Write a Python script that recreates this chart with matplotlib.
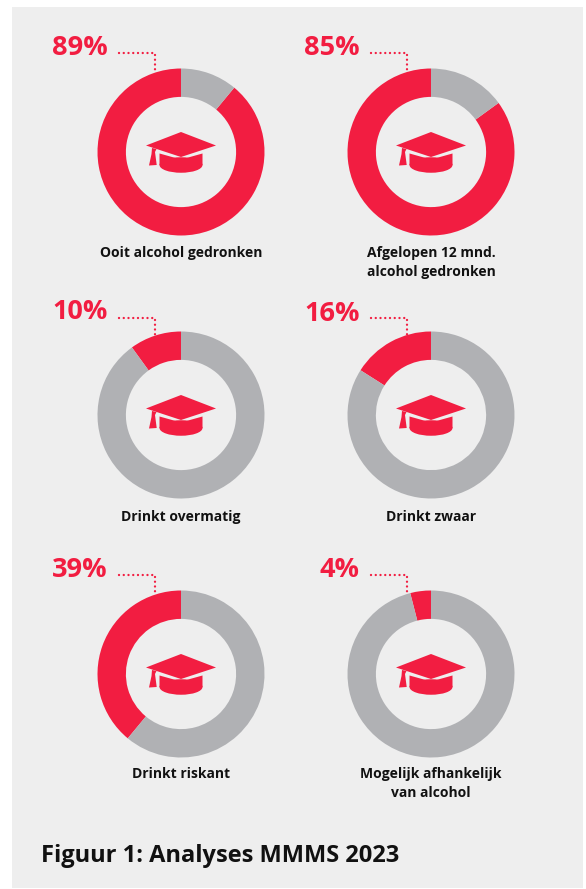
import matplotlib.pyplot as plt
from matplotlib.patches import Polygon, Rectangle, Ellipse

labels = ["Ooit alcohol gedronken", "Afgelopen 12 mnd.\nalcohol gedronken",
          "Drinkt overmatig", "Drinkt zwaar",
          "Drinkt riskant", "Mogelijk afhankelijk\nvan alcohol"]
percentages = [89, 85, 10, 16, 39, 4]
title = "Figuur 1: Analyses MMMS 2023"

RED = "#f21d41"
GREY = "#b0b1b4"
PANEL = "#eeeeee"
W, H = 586, 889

# ring centres and where the percentage text and dotted leader sit
centres_x = [181, 431, 181, 431, 181, 431]
centres_y = [152, 152, 415, 415, 674, 674]
pct_right = [108, 360, 108, 360, 108, 360]
pct_y = [48, 48, 312, 314, 570, 570]
leader_y = [53, 53, 318, 318, 575, 575]
leader_x = [155, 407, 155, 407, 155, 407]
leader_end = [71, 71, 335, 335, 592, 592]
label_y = [246, 246, 510, 510, 767, 767]

plt.rcParams["font.family"] = ["Open Sans", "DejaVu Sans"]

fig = plt.figure(figsize=(W / 100, H / 100), dpi=100, facecolor="white")
bg = fig.add_axes([0, 0, 1, 1])
bg.set_xlim(0, W)
bg.set_ylim(H, 0)
bg.axis("off")
bg.add_patch(Rectangle((12, 7), 571, 881, color=PANEL, lw=0))


def draw_cap(ax, cx, cy):
    # graduation cap, offsets in pixels from the ring centre
    ax.add_patch(Polygon([(cx - 21.5, cy + 1.5), (cx, cy + 7.5), (cx + 21.5, cy + 1.5),
                          (cx + 21.5, cy + 13), (cx - 21.5, cy + 13)], color=RED, lw=0))
    ax.add_patch(Ellipse((cx, cy + 13), 43, 15.5, color=RED, lw=0))
    ax.add_patch(Polygon([(cx, cy - 20), (cx + 35, cy - 6.5), (cx, cy + 5), (cx - 35, cy - 6.5)],
                         color=RED, lw=0))
    # tassel hanging from the left side
    ax.add_patch(Polygon([(cx - 29, cy - 4), (cx - 24.5, cy - 3), (cx - 26, cy),
                          (cx - 24.3, cy + 13), (cx - 32, cy + 13.5), (cx - 29.5, cy + 2)],
                         color=RED, lw=0))


for i in range(6):
    cx, cy = centres_x[i], centres_y[i]
    R = 83.5
    ax = fig.add_axes([(cx - R) / W, 1 - (cy + R) / H, 2 * R / W, 2 * R / H])
    ax.pie([percentages[i], 100 - percentages[i]], colors=[RED, GREY], startangle=90,
           counterclock=True, radius=1, wedgeprops={"width": 0.34, "linewidth": 0})
    ax.set_xlim(-1, 1)
    ax.set_ylim(-1, 1)
    ax.set_aspect("equal")

    bg.text(pct_right[i], pct_y[i], f"{percentages[i]}%", color=RED, fontsize=19.5,
            fontweight="bold", ha="right", va="center")
    bg.plot([pct_right[i] + 11, leader_x[i], leader_x[i]],
            [leader_y[i], leader_y[i], leader_end[i]],
            color=RED, lw=1.7, ls=(0, (0.01, 2)), dash_capstyle="round")
    bg.text(cx, label_y[i], labels[i], color="#111111", fontsize=10, fontweight="bold",
            ha="center", va="top", linespacing=1.45)

# caps go on top of the rings in a separate transparent layer
top = fig.add_axes([0, 0, 1, 1], facecolor="none")
top.set_xlim(0, W)
top.set_ylim(H, 0)
top.axis("off")
for i in range(6):
    draw_cap(top, centres_x[i], centres_y[i])

bg.text(41, 855.5, title, color="#111111", fontsize=17, fontweight="bold", ha="left", va="center")

fig.savefig("out.png", dpi=100)
